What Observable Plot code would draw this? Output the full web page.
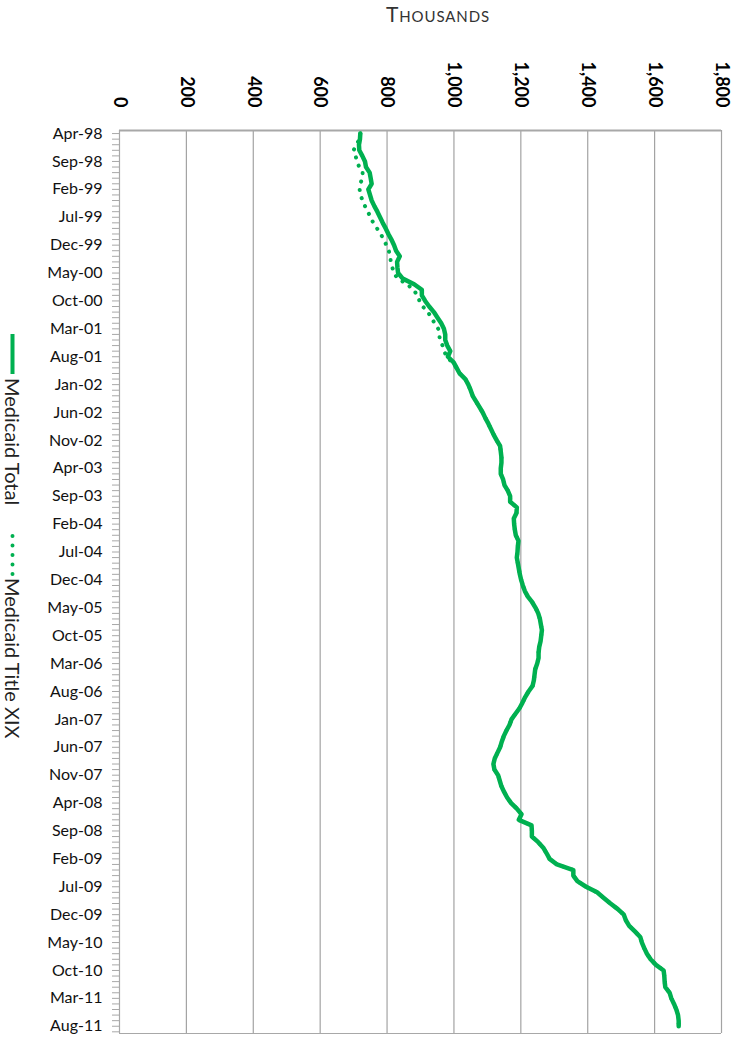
<!DOCTYPE html>
<html><head><meta charset="utf-8">
<script src="https://cdn.jsdelivr.net/npm/d3@7"></script>
<script src="https://cdn.jsdelivr.net/npm/@observablehq/plot@0.6"></script>
<style>
html,body{margin:0;padding:0;background:#fff;}
#wrap{position:relative;width:739px;height:1038px;overflow:hidden;font-family:Lato,sans-serif;}
#chart{position:absolute;left:0;top:0;}
#unit{position:absolute;top:1px;left:438px;transform:translateX(-50%);font-variant:small-caps;font-size:21px;color:#333;letter-spacing:0.9px;white-space:nowrap;}
#legend{position:absolute;left:0;top:0;width:440px;height:24px;transform:translate(24.5px,333px) rotate(90deg);transform-origin:0 0;font-size:20px;color:#222;}
#legend .item{position:absolute;top:0;height:24px;line-height:24px;white-space:nowrap;}
#legend svg{position:absolute;top:0;}
</style></head>
<body><div id="wrap"><div id="unit">Thousands</div><div id="chart"></div><div id="legend"></div></div>
<script>
// Months Apr-98 .. Aug-11 (161 monthly categories)
const medicaidTotal = [
720,719,716,717,726,734,737,748,751,754,
744,749,754,762,771,779,787,796,804,813,
821,827,838,830,831,833,847,881,904,904,
914,926,940,951,962,970,974,974,980,989,
982,999,1008,1017,1034,1043,1050,1056,1066,1076,
1086,1094,1103,1111,1119,1128,1138,1140,1142,1142,
1140,1140,1147,1151,1161,1168,1168,1188,1187,1179,
1180,1182,1185,1193,1191,1190,1188,1191,1194,1197,
1201,1206,1212,1221,1234,1244,1252,1257,1260,1263,
1261,1259,1255,1253,1253,1249,1243,1241,1239,1235,
1223,1213,1205,1196,1184,1172,1166,1157,1149,1143,
1138,1130,1122,1118,1121,1132,1137,1142,1150,1159,
1171,1188,1202,1194,1232,1233,1233,1252,1267,1277,
1286,1308,1357,1357,1369,1395,1428,1448,1468,1490,
1508,1514,1524,1541,1557,1562,1569,1577,1588,1604,
1627,1629,1630,1632,1645,1650,1658,1665,1670,1672,
1672];
const medicaidTitleXIX = [
720,718,708,700,706,710,717,727,726,720,
718,720,727,734,743,750,759,770,781,790,
798,805,810,811,816,820,832,860,879,891,
897,907,922,933,942,953,956,958,966,971,
978,995,1008,1017,1034,1043,1050,1056,1066,1076,
1086,1094,1103,1111,1119,1128,1138,1140,1142,1142,
1140,1140,1147,1151,1161,1168,1168,1188,1187,1179,
1180,1182,1185,1193,1191,1190,1188,1191,1194,1197,
1201,1206,1212,1221,1234,1244,1252,1257,1260,1263,
1261,1259,1255,1253,1253,1249,1243,1241,1239,1235,
1223,1213,1205,1196,1184,1172,1166,1157,1149,1143,
1138,1130,1122,1118,1121,1132,1137,1142,1150,1159,
1171,1188,1202,1194,1232,1233,1233,1252,1267,1277,
1286,1308,1357,1357,1369,1395,1428,1448,1468,1490,
1508,1514,1524,1541,1557,1562,1569,1577,1588,1604,
1627,1629,1630,1632,1645,1650,1658,1665,1670,1672,
1672];
const valueTicks = [0,200,400,600,800,1000,1200,1400,1600,1800];
const dateTickLabels = ["Apr-98","Sep-98","Feb-99","Jul-99","Dec-99","May-00","Oct-00","Mar-01","Aug-01","Jan-02","Jun-02","Nov-02","Apr-03","Sep-03","Feb-04","Jul-04","Dec-04","May-05","Oct-05","Mar-06","Aug-06","Jan-07","Jun-07","Nov-07","Apr-08","Sep-08","Feb-09","Jul-09","Dec-09","May-10","Oct-10","Mar-11","Aug-11"];
const seriesNames = ["Medicaid Total","Medicaid Title XIX"];
const green = "#00B050";

const rows = medicaidTotal.map((v, i) => ({i, total: v, xix: medicaidTitleXIX[i]}));
const yDomain = [-0.55, 161.3];
const labelStep = 5;

const chart = Plot.plot({
  width: 739, height: 1038,
  marginTop: 130, marginLeft: 119, marginRight: 18, marginBottom: 5,
  style: {fontFamily: "Lato, sans-serif", background: "transparent", color: "#000", overflow: "visible"},
  x: {domain: [0, 1800], axis: null},
  y: {domain: yDomain, reverse: true, axis: null},
  marks: [
    Plot.ruleX(valueTicks.slice(1), {stroke: "#a3a3a3", strokeWidth: 1.2}),
    Plot.ruleY([yDomain[0]], {stroke: "#a8a8a8", strokeWidth: 1.8}),
    Plot.ruleY([yDomain[1]], {stroke: "#a8a8a8", strokeWidth: 1.2}),
    Plot.ruleX([0], {stroke: "#a8a8a8", strokeWidth: 1.2}),
    Plot.axisY({anchor: "left", ticks: d3.range(0, rows.length + 1), tickSize: 7, tickFormat: () => "", stroke: "#a8a8a8", label: null}),
    Plot.axisY({anchor: "left", ticks: d3.range(0, rows.length, labelStep), tickSize: 0, tickPadding: 17, fontSize: 16, fill: "#111",
      tickFormat: i => dateTickLabels[Math.round(i / labelStep)], label: null}),
    Plot.text(valueTicks, {x: d => d, frameAnchor: "top", dy: -23, rotate: 90, textAnchor: "end", lineAnchor: "middle",
      fontWeight: "bold", fontSize: 18, fill: "#000", text: d => d3.format(",")(d)}),
    Plot.line(rows, {x: "xix", y: "i", stroke: green, strokeWidth: 4, strokeDasharray: "0.1 8.5", strokeLinecap: "round"}),
    Plot.line(rows, {x: "total", y: "i", stroke: green, strokeWidth: 4.5, strokeLinejoin: "round", strokeLinecap: "round"})
  ]
});
document.getElementById("chart").appendChild(chart);

// Legend (rotated, reading top to bottom)
const legend = document.getElementById("legend");
legend.innerHTML =
  `<svg width="42" height="24" style="left:0"><line x1="1" y1="12" x2="41" y2="12" stroke="${green}" stroke-width="4"/></svg>` +
  `<span class="item" style="left:45px">${seriesNames[0]}</span>` +
  `<svg width="42" height="24" style="left:201px"><line x1="2" y1="12" x2="40" y2="12" stroke="${green}" stroke-width="4" stroke-linecap="round" stroke-dasharray="0.1 9.4"/></svg>` +
  `<span class="item" style="left:245px">${seriesNames[1]}</span>`;
</script>
</body></html>
